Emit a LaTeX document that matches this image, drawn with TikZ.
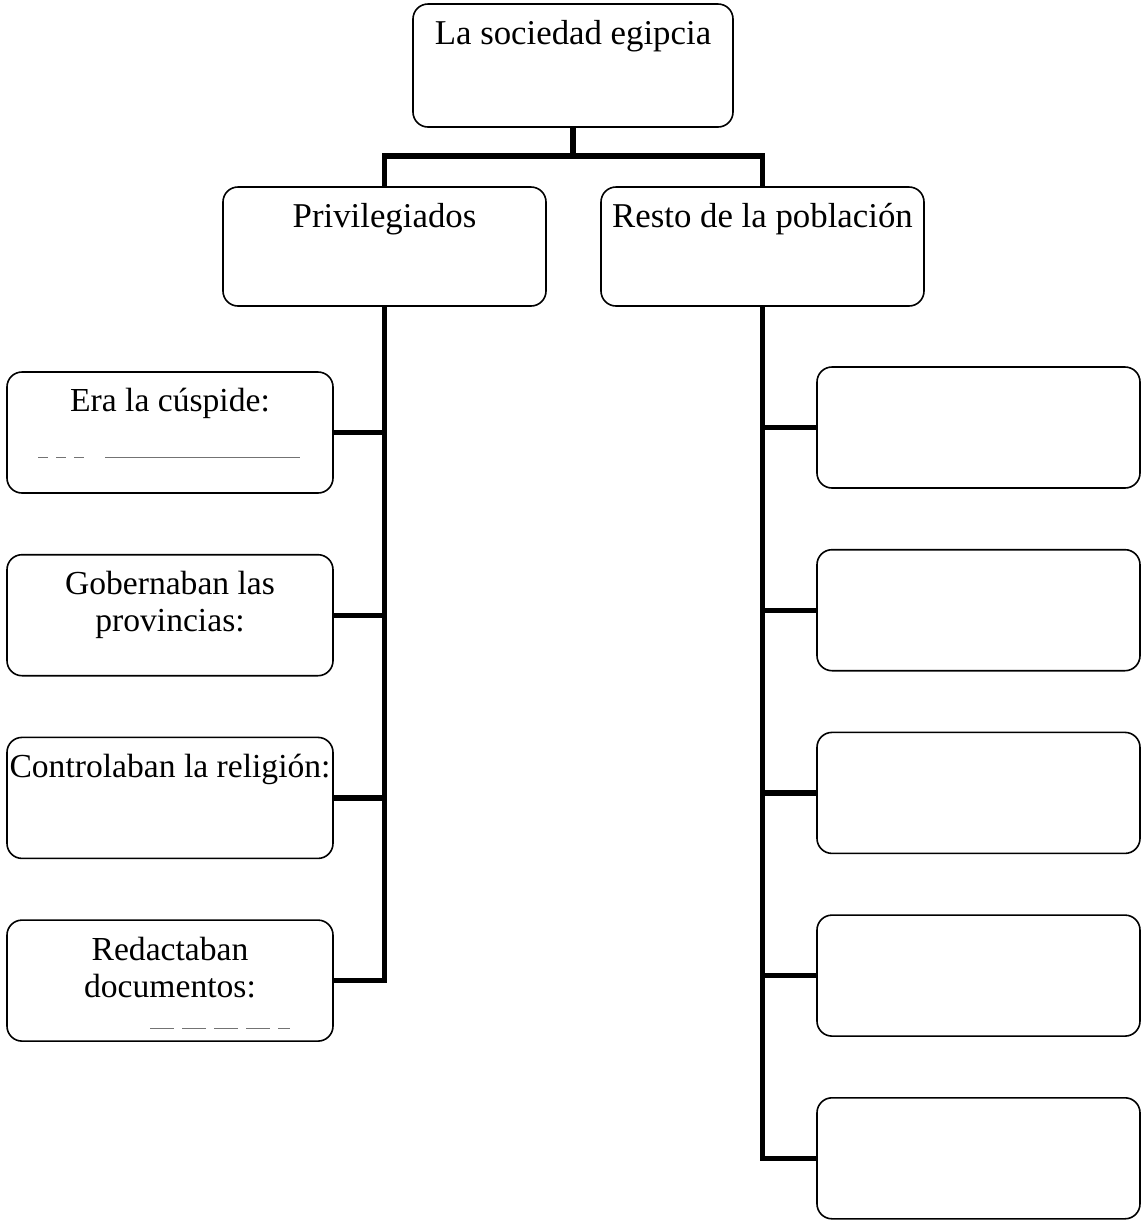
\documentclass[tikz,border=0pt]{standalone}
\usepackage{fontspec}
\setmainfont{Liberation Serif}
\usepackage{tikz}
\newcommand{\egyfont}{\linespread{1}\fontsize{16.8}{18.5}\selectfont}
\newcommand{\egybigfont}{\linespread{1}\fontsize{17.4}{19}\selectfont}
\tikzset{
    egy/chart/.style={x=0.5pt, y=-0.5pt, font=\egyfont},
    egy/box/.style={rectangle, rounded corners=7.5pt, draw=black, line width=0.8pt, minimum width=161.5pt, minimum height=60.5pt, inner sep=0pt},
    egy/title/.style={anchor=north, inner sep=0pt, yshift=-8.5pt, align=center, font=\egyfont},
    egy/link/.style={line width=2.6pt, draw=black},
    egy/blank/.style={line width=0.5pt, draw=black!55}
}

\begin{document}
\begin{tikzpicture}[egy/chart]
    \useasboundingbox (0,0) rectangle (1145,1223);
    \node[egy/box, minimum width=160pt, minimum height=61.5pt, label={[egy/title, font=\egybigfont]north:La sociedad egipcia}] (society) at (573,65.5) {};
    \node[egy/box, minimum height=59.5pt, label={[egy/title, font=\egybigfont]north:Privilegiados}] (privileged) at (384.5,246.5) {};
    \node[egy/box, minimum height=59.5pt, label={[egy/title, font=\egybigfont]north:Resto de la población}] (rest) at (762.5,246.5) {};
    % privilegiados
    \node[egy/box, minimum width=163pt, label={[egy/title]north:Era la cúspide:}] (elite1) at (170,432.5) {};
    \node[egy/box, minimum width=163pt, label={[egy/title]north:{Gobernaban las\\provincias:}}] (elite2) at (170,615.2) {};
    \node[egy/box, minimum width=163pt, label={[egy/title]north:Controlaban la religión:}] (elite3) at (170,797.9) {};
    \node[egy/box, minimum width=163pt, label={[egy/title]north:{Redactaban\\documentos:}}] (elite4) at (170,980.6) {};
    \draw[egy/blank, dash pattern=on 5pt off 4pt] (38,457) -- (84,457);
    \draw[egy/blank] (105,457) -- (300,457);
    \draw[egy/blank, dash pattern=on 12pt off 4pt] (150,1028) -- (290,1028);
    % resto de la poblacion
    \foreach \i in {1,...,5}
        \node[egy/box] (commoner\i) at (978.5,{427.5+(\i-1)*182.7}) {};
    \coordinate (fork) at (573,156);
    \draw[egy/link] (society) -- (fork);
    \draw[egy/link] (privileged.north) |- (fork) -| (rest.north);
    \draw[egy/link] (privileged.south) |- (elite4.east);
    \foreach \i in {1,2,3}
        \draw[egy/link] (elite\i.east) -- (elite\i.east -| privileged.south);
    \draw[egy/link] (rest.south) |- (commoner5.west);
    \foreach \i in {1,...,4}
        \draw[egy/link] (commoner\i.west) -- (commoner\i.west -| rest.south);
\end{tikzpicture}
\end{document}
